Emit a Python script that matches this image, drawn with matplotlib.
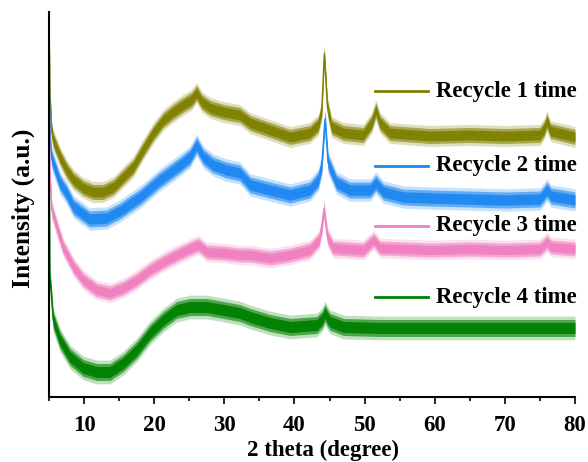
import matplotlib
matplotlib.use("Agg")
import matplotlib.pyplot as plt
from matplotlib.ticker import MultipleLocator, NullLocator

plt.rcParams['font.family'] = ['Liberation Serif', 'DejaVu Serif']
plt.rcParams['font.weight'] = 'bold'

labels = ["Recycle 1 time", "Recycle 2 time", "Recycle 3 time", "Recycle 4 time"]
colors = ["#808000", "#1E88F0", "#F080C0", "#008000"]

# 2-theta positions (degree) and relative intensities
x1 = [5.0, 5.15, 5.35, 5.6, 6.57, 7.5, 8.5, 9.9, 11.3, 12.7, 14.2, 15.6, 17.0, 18.4, 19.9,
      21.3, 22.7, 24.1, 25.3, 26.05, 26.8, 28.0, 29.9, 32.2, 33.7, 36.5, 39.4, 42.2, 43.4,
      43.9, 44.25, 44.7, 45.3, 47.0, 49.8, 51.0, 51.6, 52.2, 53.6, 59.3, 65.0, 70.0,
      75.0, 75.6, 76.0, 76.5, 80.0]
y1 = [380, 300, 268, 257, 240, 227, 217, 209, 205, 205, 210, 220, 230, 247, 264,
      277, 285, 292, 297, 304, 295, 289, 285, 282, 274, 267, 260, 264, 272,
      287, 343, 290, 270, 264, 262, 274, 287, 274, 264, 261, 262, 261,
      262, 268, 276, 266, 260]

x2 = [5.0, 5.15, 5.35, 5.6, 6.57, 7.5, 8.5, 10.8, 13.2, 15.1, 18.0, 20.8, 23.7, 25.1,
      26.05, 27.0, 28.4, 30.3, 32.2, 33.7, 36.5, 39.4, 42.2, 43.4, 43.9, 44.35, 44.8,
      46.0, 47.9, 50.8, 51.6, 52.7, 55.5, 59.3, 65.0, 70.0, 75.0, 75.6, 76.0, 76.6, 80.0]
y2 = [340, 260, 240, 234, 214, 204, 190, 178, 179, 186, 200, 217, 232, 240,
      252, 240, 232, 227, 224, 212, 207, 202, 207, 217, 232, 278, 234,
      214, 207, 207, 214, 205, 200, 199, 198, 197, 198, 203, 207, 201, 197]

x3 = [5.0, 5.15, 5.4, 6.1, 7.0, 8.5, 9.9, 11.8, 13.7, 15.6, 17.5, 19.4, 21.3, 23.2,
      25.6, 26.3, 27.5, 29.9, 32.2, 33.7, 36.5, 39.4, 42.2, 43.5, 43.9, 44.2, 44.7,
      45.5, 49.8, 51.3, 52.2, 59.3, 65.0, 70.0, 75.0, 75.6, 76.0, 76.6, 80.0]
y3 = [310, 220, 187, 170, 150, 130, 117, 107, 104, 109, 117, 127, 135, 142,
      150, 152, 145, 144, 142, 142, 139, 142, 147, 157, 170, 188, 160,
      149, 147, 157, 149, 147, 148, 147, 148, 152, 155, 150, 148]

x4 = [5.0, 5.14, 5.6, 6.57, 8.0, 9.9, 11.8, 13.7, 15.6, 17.5, 19.4, 21.3, 23.2, 25.1,
      27.5, 29.9, 32.2, 33.7, 36.5, 39.4, 43.2, 44.0, 44.35, 44.8, 45.1, 47.0, 52.2,
      59.3, 65.0, 70.0, 80.0]
y4 = [260, 120, 77, 57, 40, 29, 25, 25, 34, 47, 64, 77, 87, 90,
      90, 87, 84, 80, 74, 70, 72, 78, 84, 78, 75, 70, 69,
      69, 69, 69, 69]

xs = [x1, x2, x3, x4]
ys = [y1, y2, y3, y4]
noise = [7.5, 8, 7, 8.5]

label_y = [306, 231, 171, 100]

fig = plt.figure(figsize=(5.88, 4.62), dpi=100)
ax = fig.add_axes([49/588, 65/462, 526/588, 385/462])

for x, y, c, b in zip(xs, ys, colors, noise):
    for frac, a in [(1.4, 0.25), (1.0, 0.6), (0.65, 0.95)]:
        ax.fill_between(x, [v - b * frac for v in y], [v + b * frac for v in y],
                        color=c, alpha=a, lw=0)
    ax.plot(x, y, color=c, lw=1.0)

for lab, c, ly in zip(labels, colors, label_y):
    ax.plot([51.5, 59.0], [ly, ly], color=c, lw=2)
    ax.text(60.2, ly, lab, fontsize=16.5, fontweight='bold', va='center', ha='left')

ax.set_xlim(5, 80)
ax.set_ylim(0, 385)
ax.xaxis.set_major_locator(MultipleLocator(10))
ax.xaxis.set_minor_locator(MultipleLocator(5))
ax.yaxis.set_major_locator(NullLocator())
ax.tick_params(axis='x', which='major', direction='out', length=5, width=1.2, labelsize=16.5, pad=8)
ax.tick_params(axis='x', which='minor', direction='out', length=3, width=1.2)
for lab in ax.get_xticklabels():
    lab.set_fontweight('bold')
ax.spines['top'].set_visible(False)
ax.spines['right'].set_visible(False)
ax.spines['left'].set_linewidth(1.5)
ax.spines['bottom'].set_linewidth(1.5)
ax.set_xlabel("2 theta (degree)", fontsize=16.5, fontweight='bold')
ax.xaxis.set_label_coords(0.521, -0.112)
ax.set_ylabel("Intensity (a.u.)", fontsize=18.4, fontweight='bold')
ax.yaxis.set_label_coords(-0.027, 0.49)

fig.savefig("out.png", dpi=100)
